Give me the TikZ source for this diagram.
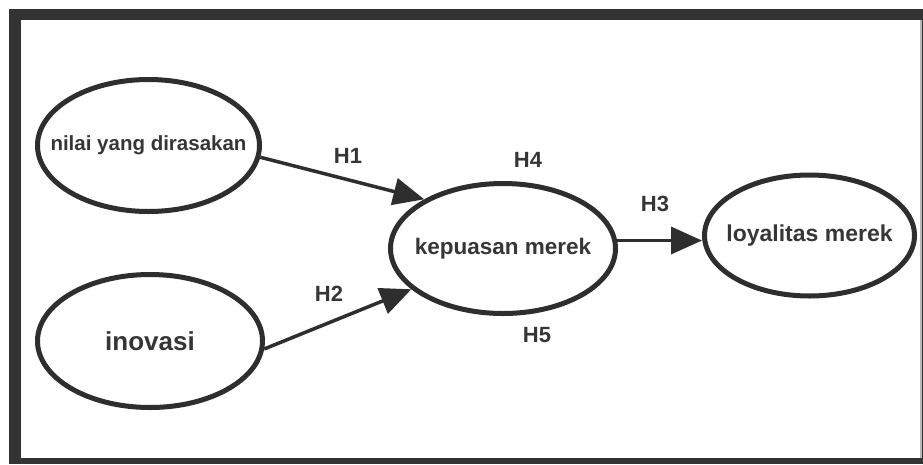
\documentclass[tikz,border=0pt]{standalone}
\usepackage{fontspec}
\setmainfont{Liberation Sans}
\usetikzlibrary{shapes.geometric,arrows.meta}
\definecolor{ink}{HTML}{2E2E2E}
\definecolor{txt}{HTML}{363636}
\definecolor{framegray}{HTML}{333333}
\tikzset{
  construct/.style={ellipse, draw=ink, line width=5pt, fill=white, inner sep=0pt,
    label={[text=txt, inner sep=0pt]center:#1}},
  path/.style={draw=ink, line width=3.5pt, -{Triangle[length=31pt,width=27pt]}},
  hyp/.style={text=txt, font=\bfseries\fontsize{22}{24}\selectfont, inner sep=0pt}
}
\begin{document}
\begin{tikzpicture}[x=1pt,y=-1pt]
  \useasboundingbox (0,0) rectangle (923,464);
  % frame
  \fill[framegray] (9,9) rectangle (923,464);
  \fill[white] (21,20) rectangle (919.5,458);
  \fill[gray!55] (919.5,20) rectangle (922,458);

  % constructs
  \node[construct={\bfseries\fontsize{20.5}{23}\selectfont nilai yang dirasakan},
        minimum width=222pt, minimum height=132pt] (nilai) at (148.5,145.5) {};
  \node[construct={\bfseries\fontsize{26}{28}\selectfont inovasi},
        minimum width=225pt, minimum height=133pt] (inovasi) at (150,341) {};
  \node[construct={\bfseries\fontsize{22.5}{25}\selectfont kepuasan merek},
        minimum width=225pt, minimum height=130pt] (kepuasan) at (503,248.5) {};
  \node[construct={\bfseries\fontsize{23}{25}\selectfont loyalitas merek},
        minimum width=210pt, minimum height=121pt] (loyal) at (809.5,235.5) {};

  % hypothesised paths
  \draw[path] (nilai.-6) -- (kepuasan.148);
  \draw[path] (inovasi.-4) -- (kepuasan.204);
  \draw[path] (kepuasan.4) -- (kepuasan.4 -| loyal.west);

  % labels
  \node[hyp] (h1) at (348,156) {H1};
  \node[hyp] (h2) at (329,293.5) {H2};
  \node[hyp] (h3) at (655,203.5) {H3};
  \node[hyp] (h4) at (528,160) {H4};
  \node[hyp] (h5) at (537,335) {H5};
\end{tikzpicture}
\end{document}
